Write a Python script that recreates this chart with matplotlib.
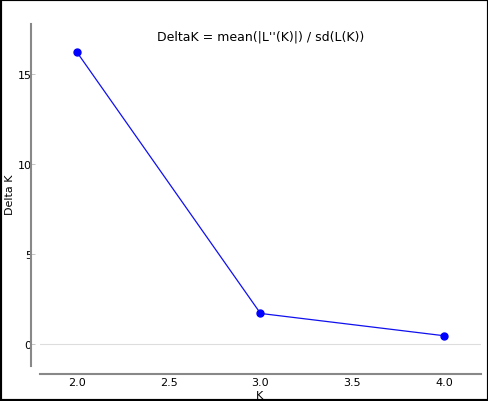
import matplotlib
matplotlib.use("Agg")
import matplotlib.pyplot as plt
from matplotlib.patches import Rectangle

k_values = [2.0, 3.0, 4.0]
delta_k = [16.25, 1.72, 0.48]
x_ticks = [2.0, 2.5, 3.0, 3.5, 4.0]
y_ticks = [0, 5, 10, 15]

W, H = 489, 402
fig = plt.figure(figsize=(W / 100, H / 100), dpi=100)
ax = fig.add_axes([40 / W, (H - 367) / H, (481 - 40) / W, (367 - 25) / H])

ax.axhline(0, color="#dddddd", lw=0.8, zorder=1)
ax.plot(k_values, delta_k, color="#1010ee", lw=0.9, marker="o", ms=5,
        mfc="blue", mec="blue", zorder=3)

ax.set_xlim(1.8, 4.2)
ax.set_ylim(-1.2, 17.8)
ax.set_xticks(x_ticks)
ax.set_yticks(y_ticks)
ax.set_xticklabels(["%.1f" % v for v in x_ticks])

for s in ["top", "right"]:
    ax.spines[s].set_visible(False)
# offsets in points (100 dpi -> 0.72 pt per pixel)
ax.spines["left"].set_position(("outward", 9 * 0.72))
ax.spines["bottom"].set_position(("outward", 8 * 0.72))
for s in ["left", "bottom"]:
    ax.spines[s].set_color("#888888")
    ax.spines[s].set_linewidth(1.5)
ax.tick_params(axis="y", labelsize=8, color="#bbbbbb", direction="in",
               length=3, width=0.6, pad=-0.5)
ax.tick_params(axis="x", labelsize=8, length=0, pad=2)

ax.text(0.5, 0.985, "DeltaK = mean(|L''(K)|) / sd(L(K))", transform=ax.transAxes,
        ha="center", va="top", fontsize=9)
fig.text(260 / W, 1 - 396 / H, "K", ha="center", va="center", fontsize=8)
fig.text(10 / W, 1 - 195 / H, "Delta K", ha="center", va="center",
         rotation=90, fontsize=8)

fig.patches.append(Rectangle((0, 0), 1, 1, transform=fig.transFigure, fill=False,
                             edgecolor="black", lw=3))

fig.savefig("out.png", dpi=100)
